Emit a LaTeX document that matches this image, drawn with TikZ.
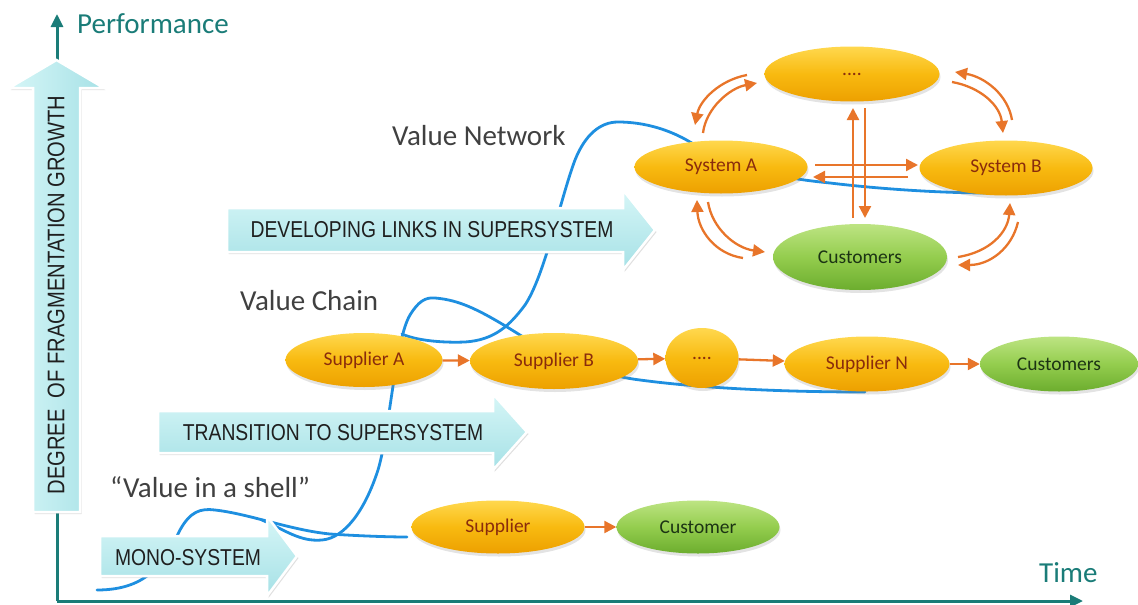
\documentclass[tikz,border=0pt]{standalone}
\usepackage{fontspec}
\setmainfont{Carlito}
\newfontfamily\narrowfont[FakeStretch=0.84]{Liberation Sans}
\usetikzlibrary{arrows.meta,shadows,shapes.geometric,calc}

\definecolor{axisteal}{HTML}{1A7C78}
\definecolor{curveblue}{HTML}{1E8FE0}
\definecolor{linkorange}{HTML}{E8752A}
\definecolor{flowtop}{HTML}{D6F6F7}
\definecolor{flowbot}{HTML}{A6E1E6}
\definecolor{ytop}{HTML}{FFD84E}
\definecolor{ymid}{HTML}{F8BA10}
\definecolor{ybot}{HTML}{EDA000}
\definecolor{ytext}{HTML}{8A2C0C}
\definecolor{gtop}{HTML}{BDE483}
\definecolor{gmid}{HTML}{94CD4E}
\definecolor{gbot}{HTML}{6CAD2E}
\definecolor{gtext}{HTML}{1C3414}
\definecolor{labelgray}{HTML}{404040}

\begin{document}
\begin{tikzpicture}[x=1pt,y=-1pt,
  axis/.style={draw=axisteal,line width=3pt,-{Triangle[length=13pt,width=12pt]}},
  trend/.style={draw=curveblue,line width=2.8pt,line cap=round},
  flowbox/.style={draw=white,line width=2.5pt,line join=miter,top color=flowtop,bottom color=flowbot,
    drop shadow={shadow xshift=1.5pt,shadow yshift=-2pt,opacity=0.25}},
  flowtext/.style={font=\narrowfont\fontsize{23}{26}\selectfont,text=black!88,inner sep=0pt},
  blob/.style={ellipse,inner sep=0pt,font=\fontsize{19.5}{22}\selectfont,
    drop shadow={shadow xshift=1pt,shadow yshift=-3pt,opacity=0.22}},
  yblob/.style={blob,top color=ytop,bottom color=ybot,middle color=ymid,text=ytext},
  gblob/.style={blob,top color=gtop,bottom color=gbot,middle color=gmid,text=gtext},
  link/.style={draw=linkorange,line width=2.3pt,-{Triangle[length=12pt,width=12pt]}},
  heading/.style={font=\fontsize{29}{32}\selectfont,inner sep=0pt,anchor=base west},
]
\useasboundingbox (0,0) rectangle (1138,605);

% axes
\coordinate (origin) at (57,601);
\coordinate (ytop) at (57,14);
\coordinate (xend) at (1083,601);
\draw[axis] (origin) -- (ytop);
\draw[axis] (origin) -- (xend);
\node[heading,text=axisteal] (perf) at (77,33) {Performance};
\node[heading,text=axisteal] (time) at (1039,582) {Time};

% S-curves of performance
\draw[trend] (97,590) .. controls (150,590) and (165,560) .. (180,530)
  .. controls (190,512) and (200,508) .. (215,510)
  .. controls (250,514) and (290,530) .. (330,534)
  .. controls (360,536) and (390,537) .. (407,537);
\draw[trend] (262,520) .. controls (285,530) and (300,542) .. (322,540)
  .. controls (345,538) and (365,510) .. (378,470)
  .. controls (390,430) and (395,340) .. (410,315)
  .. controls (418,302) and (425,297) .. (435,298)
  .. controls (460,300) and (480,310) .. (520,335)
  .. controls (560,360) and (600,375) .. (640,380)
  .. controls (700,388) and (780,392) .. (865,392);
\draw[trend] (402,334) .. controls (415,340) and (440,343) .. (465,342)
  .. controls (495,340) and (510,325) .. (525,305)
  .. controls (545,275) and (560,200) .. (575,160)
  .. controls (585,135) and (600,122) .. (618,122)
  .. controls (645,122) and (670,130) .. (690,142)
  .. controls (740,170) and (780,178) .. (830,183)
  .. controls (880,189) and (940,193) .. (990,193);

% stage arrows
\path[flowbox,left color=flowtop,right color=flowbot]
  (33,512) -- (33,88) -- (9,88) -- (56.5,60) -- (104,88) -- (80,88) -- (80,512) -- cycle;
\node[flowtext,font=\narrowfont\fontsize{24}{27}\selectfont,rotate=90] (degree) at (56,295)
  {DEGREE\ \ OF FRAGMENTATION GROWTH};

\path[flowbox] (100,536) -- (267,536) -- (267,516) -- (297,556) -- (267,596) -- (267,576) -- (100,576) -- cycle;
\node[flowtext] (mono) at (188,558) {MONO-SYSTEM};

\path[flowbox] (158,411) -- (493,411) -- (493,394) -- (527,432) -- (493,470) -- (493,453) -- (158,453) -- cycle;
\node[flowtext] (trans) at (333,433) {TRANSITION TO SUPERSYSTEM};

\path[flowbox] (227,208) -- (623,208) -- (623,190) -- (655,230) -- (623,270) -- (623,252) -- (227,252) -- cycle;
\node[flowtext] (devl) at (432,230) {DEVELOPING LINKS IN SUPERSYSTEM};

% stage headings
\node[heading,text=labelgray] (vnet) at (392,145) {Value Network};
\node[heading,text=labelgray] (vchain) at (240,310) {Value Chain};
\node[heading,text=labelgray] (vshell) at (110,497) {“Value in a shell”};

% mono-system
\node[yblob,minimum width=173pt,minimum height=53pt] (sup) at (498,527) {Supplier};
\node[gblob,minimum width=163pt,minimum height=53pt] (cust) at (698,527) {Customer};
\draw[link] (sup) -- (cust);

% value chain
\node[yblob,minimum width=157pt,minimum height=54pt] (supA) at (364,360) {Supplier A};
\node[yblob,minimum width=168pt,minimum height=56pt] (supB) at (554,361) {Supplier B};
\node[yblob,minimum width=73pt,minimum height=60pt] (supD) at (702,358) {....};
\node[yblob,minimum width=165pt,minimum height=55pt] (supN) at (867,364) {Supplier N};
\node[gblob,minimum width=158pt,minimum height=55pt] (custC) at (1059,364) {Customers};
\draw[link] (supA) -- (supB);
\draw[link] (supB) -- (supD);
\draw[link] (supD) -- (supN);
\draw[link] (supN) -- (custC);

% value network
\node[yblob,minimum width=175pt,minimum height=55pt] (netD) at (852,74) {....};
\node[yblob,minimum width=173pt,minimum height=53pt] (sysA) at (721,167) {System A};
\node[yblob,minimum width=173pt,minimum height=55pt] (sysB) at (1006,168) {System B};
\node[gblob,minimum width=174pt,minimum height=66pt] (custN) at (860,257) {Customers};

\draw[link] ($(sysA)+(94,-2)$) -- ($(sysB)+(-88,-3)$);
\draw[link] ($(sysB)+(-98,9)$) -- ($(sysA)+(92,10)$);
\draw[link] ($(custN)+(-7,-39)$) -- ($(netD)+(1,34)$);
\draw[link] ($(netD)+(13,34)$) -- ($(custN)+(5,-39)$);

\draw[link] ($(netD)+(-105,1)$) .. controls +(-27,5) and +(5,-25) .. ($(sysA)+(-26,-42)$);
\draw[link] ($(sysA)+(-18,-34)$) .. controls +(3,-25) and +(-27,5) .. ($(netD)+(-95,9)$);
\draw[link] ($(netD)+(100,8)$) .. controls +(28,5) and +(-3,-28) .. ($(sysB)+(-3,-35)$);
\draw[link] ($(sysB)+(6,-48)$) .. controls +(-4,-25) and +(30,5) .. ($(netD)+(103,-2)$);
\draw[link] ($(sysA)+(-13,35)$) .. controls +(4,26) and +(-30,-4) .. ($(custN)+(-95,-5)$);
\draw[link] ($(custN)+(-117,1)$) .. controls +(-28,-4) and +(1,30) .. ($(sysA)+(-24,33)$);
\draw[link] ($(custN)+(98,0)$) .. controls +(32,-5) and +(-2,29) .. ($(sysB)+(4,35)$);
\draw[link] ($(sysB)+(12,54)$) .. controls +(-6,26) and +(32,0) .. ($(custN)+(98,8)$);
\end{tikzpicture}
\end{document}
